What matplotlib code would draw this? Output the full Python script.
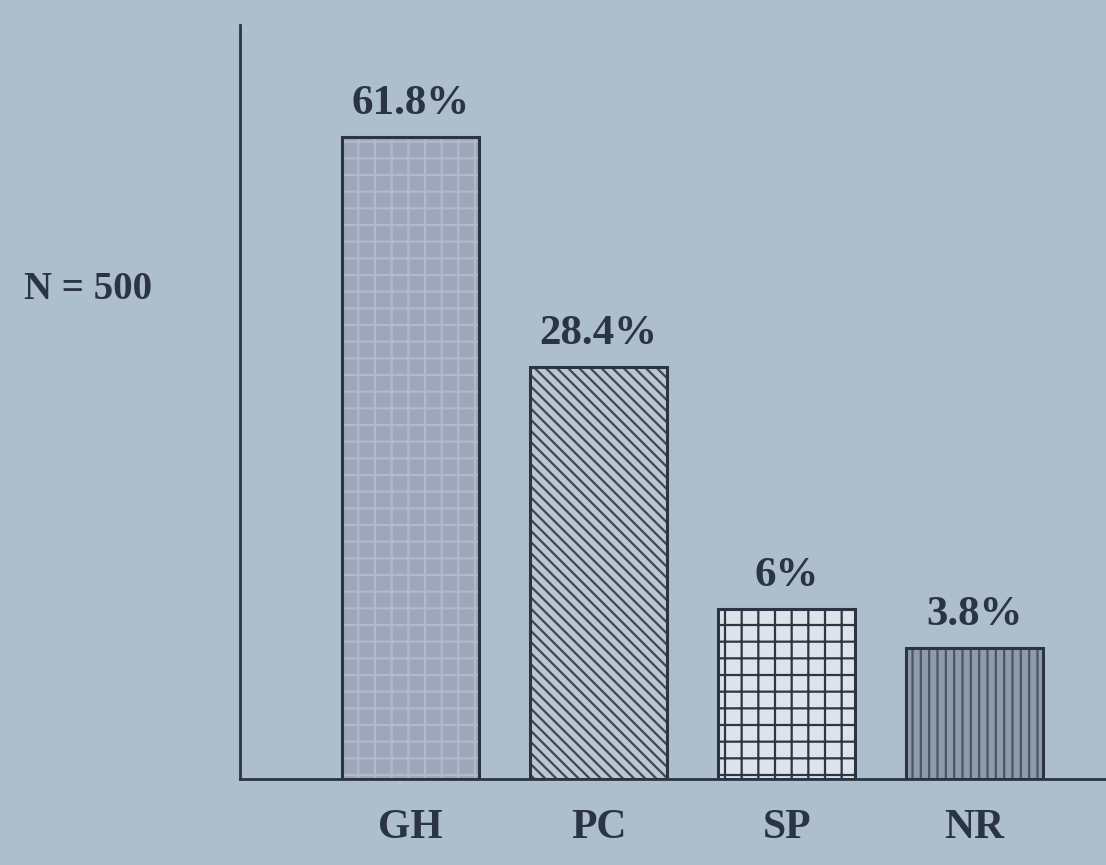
import matplotlib
matplotlib.use("Agg")
import matplotlib.pyplot as plt
import numpy as np

categories = ["GH", "PC", "SP", "NR"]
values = [61.8, 28.4, 6, 3.8]
sample_note = "N = 500"

bg = "#adbecc"
fills = ["#9ea6bb", "#bcc6d1", "#dde3ea", "#8f9aab"]
hatch_cols = ["#b3b9c9", "#3c4656", "#2e3646", "#4a5566"]
hatches = ["+", "\\\\\\", "+", "||"]
ink = "#2b3442"

plt.rcParams["font.family"] = ["Liberation Serif", "DejaVu Serif"]
plt.rcParams["hatch.linewidth"] = 1.6

fig = plt.figure(figsize=(11.06, 8.65), dpi=100, facecolor=bg)
ax = fig.add_axes([0.217, 0.10, 0.783, 0.871])
ax.set_facecolor(bg)

p = 0.57
ax.set_yscale("function", functions=(lambda v: np.sign(v) * np.abs(v) ** p,
                                     lambda t: np.sign(t) * np.abs(t) ** (1 / p)))

x = np.arange(len(categories))
w = 0.73
for i in range(len(categories)):
    ax.bar(x[i], values[i], width=w, color=fills[i], hatch=hatches[i],
           edgecolor=hatch_cols[i], linewidth=0, zorder=2)
    ax.bar(x[i], values[i], width=w, fill=False, edgecolor=ink,
           linewidth=2.2, zorder=3)
    ax.annotate(f"{values[i]:g}%", (x[i], values[i]), xytext=(0, 10),
                textcoords="offset points", ha="center", va="bottom",
                fontsize=31, fontweight="bold", color=ink)

ymax_t = (61.8 ** p) * 755 / 643
ax.set_xlim(-0.909, 3.70)
ax.set_ylim(0, ymax_t ** (1 / p))
ax.set_xticks(x)
ax.set_xticklabels(categories, fontsize=30, fontweight="bold", color=ink)
ax.tick_params(axis="x", length=0, pad=22)
ax.set_yticks([])
ax.yaxis.set_minor_locator(matplotlib.ticker.NullLocator())
for s in ["top", "right"]:
    ax.spines[s].set_visible(False)
for s in ["left", "bottom"]:
    ax.spines[s].set_color(ink)
    ax.spines[s].set_linewidth(2)

fig.text(0.080, 0.665, sample_note, fontsize=28, fontweight="bold",
         color=ink, ha="center", va="center")

fig.savefig("out.png", dpi=100, facecolor=bg)
